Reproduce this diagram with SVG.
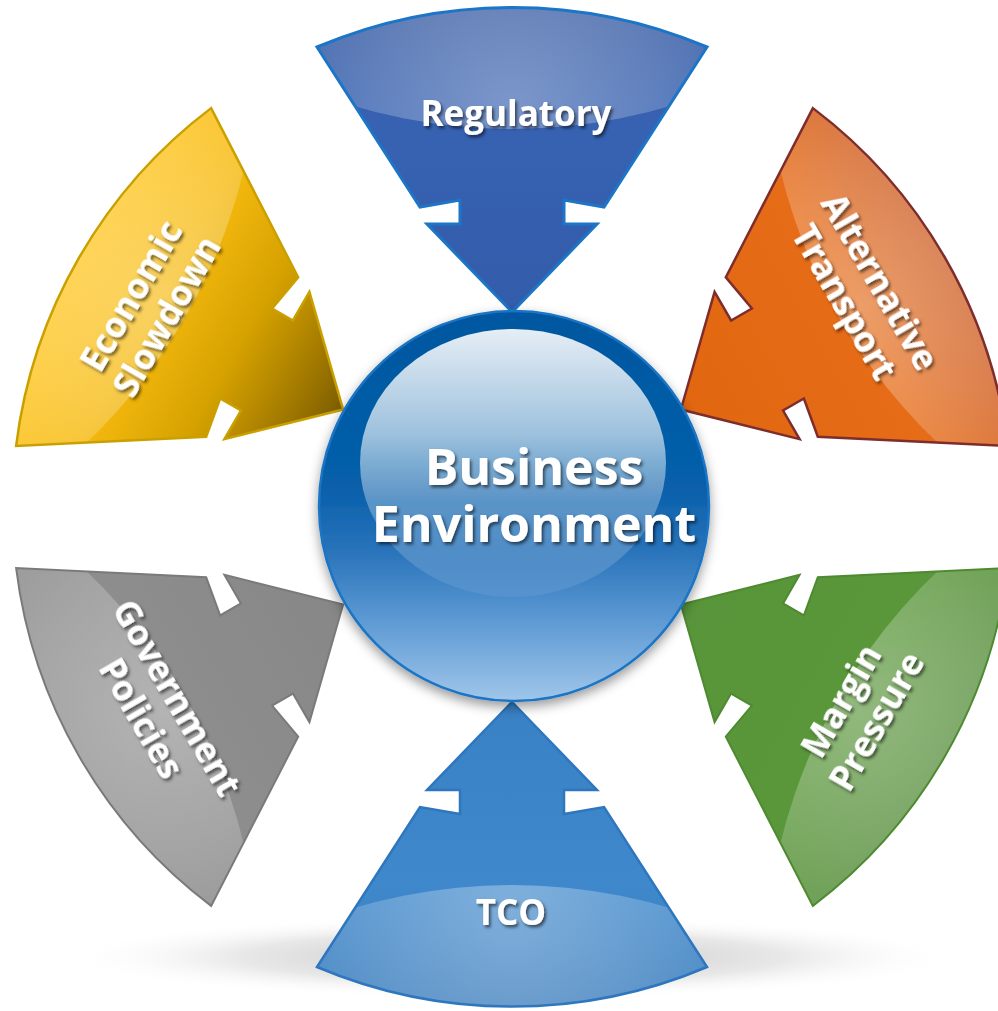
<svg xmlns="http://www.w3.org/2000/svg" width="998" height="1011" viewBox="0 0 998 1011">
<defs>
<style>
.lbl{font-family:"Open Sans","Noto Sans","DejaVu Sans",sans-serif;font-weight:700;fill:#ffffff;text-anchor:middle}
.s34{font-size:35px}
.s51{font-size:50px}
.edge{fill:none;stroke-linejoin:miter}
</style>
<path id="arrow" d="M -195,-460 A 500 500 0 0 1 195,-460 L 92,-300 L 52,-307 L 52,-283 L 85,-283 L 0,-195 L -85,-283 L -52,-283 L -52,-307 L -92,-300 Z"/>
<clipPath id="arrowClip" clipPathUnits="userSpaceOnUse"><use href="#arrow"/></clipPath>
<radialGradient id="hl" gradientUnits="userSpaceOnUse" cx="0" cy="-400" r="240">
<stop offset="0" stop-color="#ffffff" stop-opacity="0.34"/>
<stop offset="0.6" stop-color="#ffffff" stop-opacity="0.2"/>
<stop offset="1" stop-color="#ffffff" stop-opacity="0.08"/>
</radialGradient>
<linearGradient id="gReg" gradientUnits="userSpaceOnUse" x1="0" y1="-500" x2="0" y2="-195">
<stop offset="0" stop-color="#3B5EA4"/><stop offset="0.4" stop-color="#3762B2"/><stop offset="1" stop-color="#335CAA"/>
</linearGradient>
<linearGradient id="gTco" gradientUnits="userSpaceOnUse" x1="0" y1="-500" x2="0" y2="-195">
<stop offset="0" stop-color="#3A7CBC"/><stop offset="0.4" stop-color="#3E88CB"/><stop offset="1" stop-color="#3981C5"/>
</linearGradient>
<linearGradient id="gEco" gradientUnits="userSpaceOnUse" x1="0" y1="-500" x2="0" y2="-195">
<stop offset="0" stop-color="#FFC622"/><stop offset="0.3" stop-color="#F6BA10"/><stop offset="0.6" stop-color="#D6A200"/><stop offset="0.85" stop-color="#A07800"/><stop offset="1" stop-color="#7C5D00"/>
</linearGradient>
<linearGradient id="gAlt" gradientUnits="userSpaceOnUse" x1="0" y1="-500" x2="0" y2="-195">
<stop offset="0" stop-color="#CE6028"/><stop offset="0.35" stop-color="#E66C18"/><stop offset="1" stop-color="#E1660F"/>
</linearGradient>
<linearGradient id="gMar" gradientUnits="userSpaceOnUse" x1="0" y1="-500" x2="0" y2="-195">
<stop offset="0" stop-color="#5A9040"/><stop offset="0.4" stop-color="#5A973A"/><stop offset="1" stop-color="#58953A"/>
</linearGradient>
<linearGradient id="gGov" gradientUnits="userSpaceOnUse" x1="0" y1="-500" x2="0" y2="-195">
<stop offset="0" stop-color="#8E8E8E"/><stop offset="0.4" stop-color="#8D8D8D"/><stop offset="1" stop-color="#878787"/>
</linearGradient>
<linearGradient id="ball" gradientUnits="userSpaceOnUse" x1="0" y1="311" x2="0" y2="701">
<stop offset="0" stop-color="#0057A0"/><stop offset="0.45" stop-color="#075FAA"/><stop offset="0.62" stop-color="#2A74BB"/><stop offset="0.8" stop-color="#5F9BD4"/><stop offset="1" stop-color="#A0C6EA"/>
</linearGradient>
<linearGradient id="gloss" gradientUnits="userSpaceOnUse" x1="0" y1="329" x2="0" y2="597">
<stop offset="0" stop-color="#ffffff" stop-opacity="0.9"/><stop offset="0.39" stop-color="#ffffff" stop-opacity="0.62"/><stop offset="0.64" stop-color="#ffffff" stop-opacity="0.32"/><stop offset="1" stop-color="#ffffff" stop-opacity="0.06"/>
</linearGradient>
<radialGradient id="floor" cx="0.5" cy="0.5" r="0.5">
<stop offset="0" stop-color="#B8B8B8" stop-opacity="0.9"/><stop offset="0.6" stop-color="#D0D0D0" stop-opacity="0.5"/><stop offset="1" stop-color="#FFFFFF" stop-opacity="0"/>
</radialGradient>
<filter id="ts" x="-20%" y="-20%" width="140%" height="140%">
<feDropShadow dx="2" dy="2.5" stdDeviation="1.5" flood-color="#000000" flood-opacity="0.55"/>
</filter>
<filter id="bs" x="-20%" y="-20%" width="140%" height="140%">
<feDropShadow dx="0" dy="5" stdDeviation="6" flood-color="#000000" flood-opacity="0.4"/>
</filter>
</defs>
<rect width="998" height="1011" fill="#ffffff"/>
<ellipse cx="512" cy="957" rx="450" ry="42" fill="url(#floor)"/>
<g id="connectors"/>
<g id="node-regulatory" transform="translate(512,507)">
<use href="#arrow" fill="url(#gReg)"/>
<circle cx="0" cy="-935" r="557" fill="url(#hl)" clip-path="url(#arrowClip)"/>
<use href="#arrow" class="edge" stroke="#1C75C6" stroke-width="3"/>
</g>
<g id="node-alternative-transport" transform="translate(512,507) rotate(60)">
<use href="#arrow" fill="url(#gAlt)"/>
<circle cx="0" cy="-935" r="557" fill="url(#hl)" clip-path="url(#arrowClip)"/>
<use href="#arrow" class="edge" stroke="#7E2D2D" stroke-width="2.5"/>
</g>
<g id="node-margin-pressure" transform="translate(512,507) rotate(120)">
<use href="#arrow" fill="url(#gMar)"/>
<circle cx="0" cy="-935" r="557" fill="url(#hl)" clip-path="url(#arrowClip)"/>
<use href="#arrow" class="edge" stroke="#4E8A30" stroke-width="2"/>
</g>
<g id="node-tco" transform="translate(512,507) rotate(180)">
<use href="#arrow" fill="url(#gTco)"/>
<circle cx="0" cy="-935" r="557" fill="url(#hl)" clip-path="url(#arrowClip)"/>
<use href="#arrow" class="edge" stroke="#2E76BE" stroke-width="2.5"/>
</g>
<g id="node-government-policies" transform="translate(512,507) rotate(240)">
<use href="#arrow" fill="url(#gGov)"/>
<circle cx="0" cy="-935" r="557" fill="url(#hl)" clip-path="url(#arrowClip)"/>
<use href="#arrow" class="edge" stroke="#7A7A7A" stroke-width="2"/>
</g>
<g id="node-economic-slowdown" transform="translate(512,507) rotate(300)">
<use href="#arrow" fill="url(#gEco)"/>
<circle cx="0" cy="-935" r="557" fill="url(#hl)" clip-path="url(#arrowClip)"/>
<use href="#arrow" class="edge" stroke="#C9A000" stroke-width="2.5"/>
</g>
<g id="node-business-environment">
<circle cx="514" cy="506" r="195" fill="url(#ball)" stroke="#1A74C4" stroke-width="2.5" filter="url(#bs)"/>
<ellipse cx="513" cy="463" rx="153" ry="134" fill="url(#gloss)"/>
</g>
<g id="labels" filter="url(#ts)">
<text class="lbl s34" x="516" y="126">Regulatory</text>
<text class="lbl s34" x="511" y="925">TCO</text>
<text class="lbl s51"><tspan x="534" y="485">Business</tspan><tspan x="534" y="542">Environment</tspan></text>
<text class="lbl s34" transform="translate(149,306) rotate(-60)"><tspan x="0" y="-8.5">Economic</tspan><tspan x="0" y="32.5">Slowdown</tspan></text>
<text class="lbl s34" transform="translate(862,292) rotate(60)"><tspan x="0" y="-8.5">Alternative</tspan><tspan x="0" y="32.5">Transport</tspan></text>
<text class="lbl s34" transform="translate(159,708) rotate(60)"><tspan x="0" y="-8.5">Government</tspan><tspan x="0" y="32.5">Policies</tspan></text>
<text class="lbl s34" transform="translate(859,711) rotate(-60)"><tspan x="0" y="-8.5">Margin</tspan><tspan x="0" y="32.5">Pressure</tspan></text>
</g>
</svg>
